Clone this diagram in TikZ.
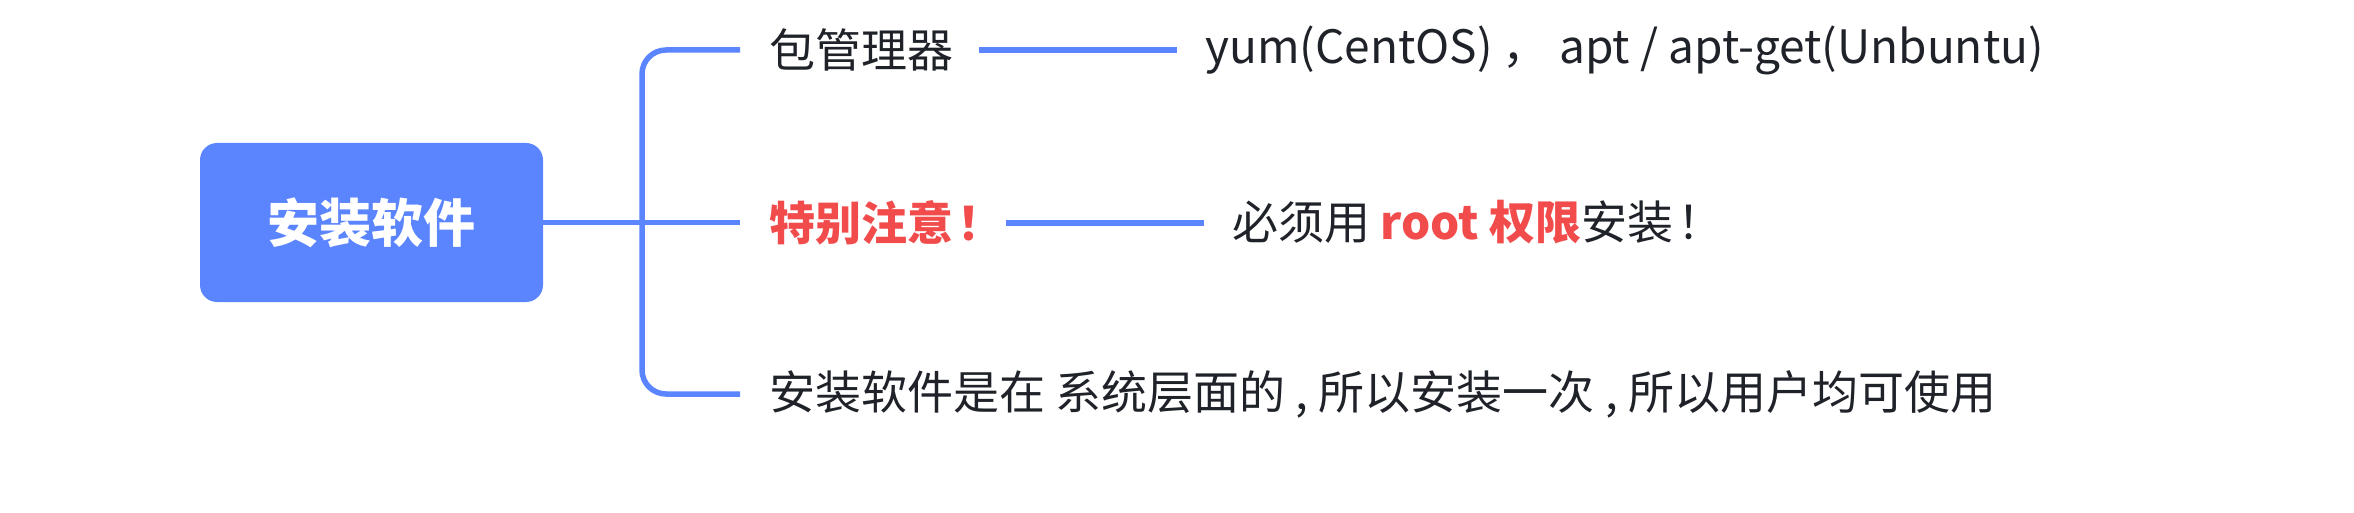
\documentclass[tikz,border=0pt]{standalone}
\usepackage{fontspec}
\newfontfamily\cjk{Noto Sans CJK SC}
\definecolor{mblue}{HTML}{5B84FF}
\definecolor{mline}{HTML}{5B84FF}
\definecolor{mred}{HTML}{F24B4B}
\definecolor{mtext}{HTML}{1F2329}
\tikzset{
  rootbox/.style={fill=mblue, rounded corners=17pt, minimum width=343pt, minimum height=159pt, inner sep=0pt, text=white, font=\cjk\bfseries\fontsize{52}{56}\selectfont},
  conn/.style={draw=mline, line width=5.5pt},
  lbl/.style={anchor=west, inner sep=0pt, text=mtext, font=\cjk\fontsize{46}{50}\selectfont},
  redlbl/.style={lbl, text=mred, font=\cjk\bfseries\fontsize{46}{50}\selectfont}
}
\begin{document}
\begin{tikzpicture}[x=1pt, y=-1pt]
\useasboundingbox (0,0) rectangle (2354,513);
\node[rootbox] (root) at (371.5,222.5) {安装软件};
\coordinate (j) at (642,222.5);
\coordinate (t) at (740,50);
\coordinate (m) at (740,222.5);
\coordinate (b) at (740,394);
\node[lbl] (n1) at (769,50) {包管理器};
\node[redlbl] (n2) at (769,222.5) {特别注意\hspace{4pt}！};
\node[lbl] (n3) at (769,394) {安装软件是在 系统层面的 , 所以安装一次 , 所以用户均可使用};
\node[lbl] (d1) at (1205,50) {yum(CentOS) ， apt / apt-get(Unbuntu)};
\node[lbl] (d2) at (1232,222.5) {必须用 \textcolor{mred}{\bfseries root 权限}安装\hspace{4pt}！};
\draw[conn] (root.east) -- (m);
\draw[conn, rounded corners=24pt] (t) -| (j) |- (b);
\coordinate (l1a) at (979,50);
\coordinate (l1b) at (1177,50);
\coordinate (l2a) at (1006,223);
\coordinate (l2b) at (1204,223);
\draw[conn] (l1a) -- (l1b);
\draw[conn] (l2a) -- (l2b);
\end{tikzpicture}
\end{document}
